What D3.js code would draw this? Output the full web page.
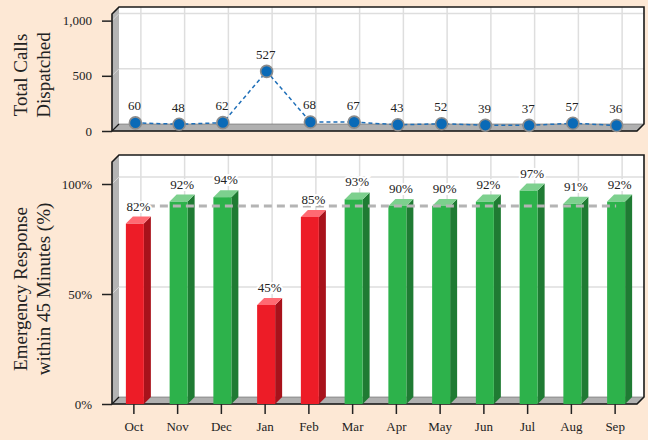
<!DOCTYPE html>
<html>
<head>
<meta charset="utf-8">
<script src="https://cdn.jsdelivr.net/npm/d3@7"></script>
<style>
    body { margin: 0; background: #fde8d5; }
    svg text { font-family: "Liberation Serif", "Times New Roman", serif; fill: #222; }
</style>
</head>
<body>
<div id="chart"></div>
<script>
(function () {
    'use strict';

    // data
    var months = ['Oct', 'Nov', 'Dec', 'Jan', 'Feb', 'Mar', 'Apr', 'May', 'Jun', 'Jul', 'Aug', 'Sep'];
    var calls = [60, 48, 62, 527, 68, 67, 43, 52, 39, 37, 57, 36];
    var response = [0.82, 0.92, 0.94, 0.45, 0.85, 0.93, 0.90, 0.90, 0.92, 0.97, 0.91, 0.92];
    var target = 0.90;
    var callTicks = [0, 500, 1000];
    var responseTicks = [0, 0.5, 1];

    var width = 648;
    var height = 440;
    var depth = 7;          // 3d offset of the back wall
    var left = 112, right = 637;

    var svg = d3.select('#chart').append('svg')
        .attr('width', width)
        .attr('height', height);

    svg.append('rect')
        .attr('width', width)
        .attr('height', height)
        .attr('fill', '#fde8d5');

    var x = d3.scaleBand().domain(months).range([left, right]);
    var cx = function (m) { return x(m) + x.bandwidth() / 2; };

    // draws the box: back wall, grid, left wall, floor, outline
    var drawFrame = function (g, y, ticks) {
        var y0 = y.range()[0], y1 = y.range()[1];

        g.append('rect')
            .attr('x', left + depth).attr('y', y1 - depth)
            .attr('width', right - left).attr('height', y0 - y1)
            .attr('fill', '#fff');

        g.selectAll('.hgrid').data(ticks.filter(function (t) { return t > 0; }))
            .enter().append('line')
            .attr('x1', left + depth).attr('x2', right + depth)
            .attr('y1', function (t) { return y(t) - depth; })
            .attr('y2', function (t) { return y(t) - depth; })
            .attr('stroke', '#dedede').attr('stroke-width', 1.5);

        g.selectAll('.vgrid').data(months)
            .enter().append('line')
            .attr('x1', function (m) { return cx(m) + depth; })
            .attr('x2', function (m) { return cx(m) + depth; })
            .attr('y1', y1 - depth).attr('y2', y0 - depth)
            .attr('stroke', '#dedede').attr('stroke-width', 1.5);

        // left wall
        g.append('polygon')
            .attr('points', [[left, y1], [left + depth, y1 - depth], [left + depth, y0 - depth], [left, y0]].join(' '))
            .attr('fill', '#b4b4b4');
        g.selectAll('.wgrid').data(ticks.filter(function (t) { return t > 0; }))
            .enter().append('line')
            .attr('x1', left).attr('x2', left + depth)
            .attr('y1', function (t) { return y(t); })
            .attr('y2', function (t) { return y(t) - depth; })
            .attr('stroke', '#d6d6d6').attr('stroke-width', 1);

        // floor
        g.append('polygon')
            .attr('points', [[left, y0], [left + depth, y0 - depth], [right + depth, y0 - depth], [right, y0]].join(' '))
            .attr('fill', '#b0b0b0')
            .attr('stroke', '#666').attr('stroke-width', 0.6);

        g.append('path')
            .attr('d', 'M' + left + ',' + y0 + 'L' + left + ',' + y1 +
                'L' + (left + depth) + ',' + (y1 - depth) + 'L' + (right + depth) + ',' + (y1 - depth) +
                'L' + (right + depth) + ',' + (y0 - depth) + 'L' + right + ',' + y0 + 'Z')
            .attr('fill', 'none')
            .attr('stroke', '#1a1a1a').attr('stroke-width', 1.6);
        g.append('line')
            .attr('x1', left).attr('y1', y0)
            .attr('x2', left + depth).attr('y2', y0 - depth)
            .attr('stroke', '#1a1a1a').attr('stroke-width', 1.2);
    };

    var styleAxis = function (g) {
        g.select('.domain').remove();
        g.selectAll('.tick line').attr('stroke', '#222').attr('stroke-width', 1.5);
        g.selectAll('.tick text').attr('font-size', 13).attr('fill', '#222')
            .attr('font-family', '"Liberation Serif", "Times New Roman", serif');
    };

    var title = function (lines, cxTitle, cyTitle) {
        var t = svg.append('text')
            .attr('transform', 'translate(' + cxTitle + ',' + cyTitle + ') rotate(-90)')
            .attr('text-anchor', 'middle')
            .attr('font-size', 19);
        lines.forEach(function (l, i) {
            t.append('tspan').attr('x', 0).attr('y', i * 23).text(l);
        });
    };

    // ---- top panel: total calls ----
    var yCalls = d3.scaleLinear().domain([0, 1060]).range([131, 14]);
    var top = svg.append('g');
    drawFrame(top, yCalls, callTicks);

    top.append('g')
        .attr('transform', 'translate(' + left + ',0)')
        .call(d3.axisLeft(yCalls).tickValues(callTicks).tickSize(10).tickPadding(10).tickFormat(d3.format(',')))
        .call(styleAxis);

    var pts = months.map(function (m, i) {
        return { m: m, v: calls[i], x: cx(m) + 1.5, y: yCalls(calls[i]) - 1.5 };
    });

    top.append('path')
        .datum(pts)
        .attr('d', d3.line().x(function (d) { return d.x; }).y(function (d) { return d.y; }))
        .attr('fill', 'none')
        .attr('stroke', '#1f6fb8')
        .attr('stroke-width', 1.5)
        .attr('stroke-dasharray', '4,3');

    top.selectAll('.pt').data(pts)
        .enter().append('circle')
        .attr('cx', function (d) { return d.x; })
        .attr('cy', function (d) { return d.y; })
        .attr('r', 6)
        .attr('fill', '#0a6ab7')
        .attr('stroke', '#8c8c8c')
        .attr('stroke-width', 1.6);

    top.selectAll('.lbl').data(pts)
        .enter().append('text')
        .attr('x', function (d) { return d.x - 1; })
        .attr('y', function (d) { return d.y - 12.5; })
        .attr('text-anchor', 'middle')
        .attr('font-size', 13)
        .text(function (d) { return d.v; });

    title(['Total Calls', 'Dispatched'], 26.5, 75);

    // ---- bottom panel: response within 45 minutes ----
    var yResp = d3.scaleLinear().domain([0, 1.1]).range([404, 162]);
    var bottom = svg.append('g');
    drawFrame(bottom, yResp, responseTicks);

    bottom.append('g')
        .attr('transform', 'translate(' + left + ',0)')
        .call(d3.axisLeft(yResp).tickValues(responseTicks).tickSize(10).tickPadding(10).tickFormat(d3.format('.0%')))
        .call(styleAxis);

    bottom.append('g')
        .attr('transform', 'translate(0,' + yResp.range()[0] + ')')
        .call(d3.axisBottom(x).tickSize(10).tickPadding(8))
        .call(styleAxis);

    var barW = 18;
    var colors = {
        bad: { front: '#ed1c27', side: '#a8121b', top: '#ff6a72' },
        good: { front: '#2db24b', side: '#1f7b33', top: '#7dd08e' }
    };
    var bars = months.map(function (m, i) {
        var x0 = cx(m) - barW / 2 + 1;
        return {
            m: m, v: response[i], x0: x0, x1: x0 + barW,
            yt: yResp(response[i]), yb: yResp(0),
            c: response[i] >= target ? colors.good : colors.bad
        };
    });

    var bar = bottom.selectAll('.bar').data(bars).enter().append('g');
    bar.append('polygon')
        .attr('points', function (d) {
            return [[d.x1, d.yt], [d.x1 + depth, d.yt - depth], [d.x1 + depth, d.yb - depth], [d.x1, d.yb]].join(' ');
        })
        .attr('fill', function (d) { return d.c.side; });
    bar.append('polygon')
        .attr('points', function (d) {
            return [[d.x0, d.yt], [d.x0 + depth, d.yt - depth], [d.x1 + depth, d.yt - depth], [d.x1, d.yt]].join(' ');
        })
        .attr('fill', function (d) { return d.c.top; });
    bar.append('rect')
        .attr('x', function (d) { return d.x0; })
        .attr('y', function (d) { return d.yt; })
        .attr('width', barW)
        .attr('height', function (d) { return d.yb - d.yt; })
        .attr('fill', function (d) { return d.c.front; });

    // target line
    bottom.append('line')
        .attr('x1', cx(months[0])).attr('x2', cx(months[months.length - 1]) + 1)
        .attr('y1', yResp(target)).attr('y2', yResp(target))
        .attr('stroke', '#b4b4b4')
        .attr('stroke-width', 2.8)
        .attr('stroke-dasharray', '8,5');

    bottom.selectAll('.blbl').data(bars)
        .enter().append('text')
        .attr('x', function (d) { return (d.x0 + d.x1) / 2 + depth / 2; })
        .attr('y', function (d) { return d.yt - 13; })
        .attr('text-anchor', 'middle')
        .attr('font-size', 13)
        .attr('stroke', '#fff')
        .attr('stroke-width', 4)
        .attr('paint-order', 'stroke')
        .text(function (d) { return Math.round(d.v * 100) + '%'; });

    title(['Emergency Response', 'within 45 Minutes (%)'], 26.5, 289);
})();
</script>
</body>
</html>
